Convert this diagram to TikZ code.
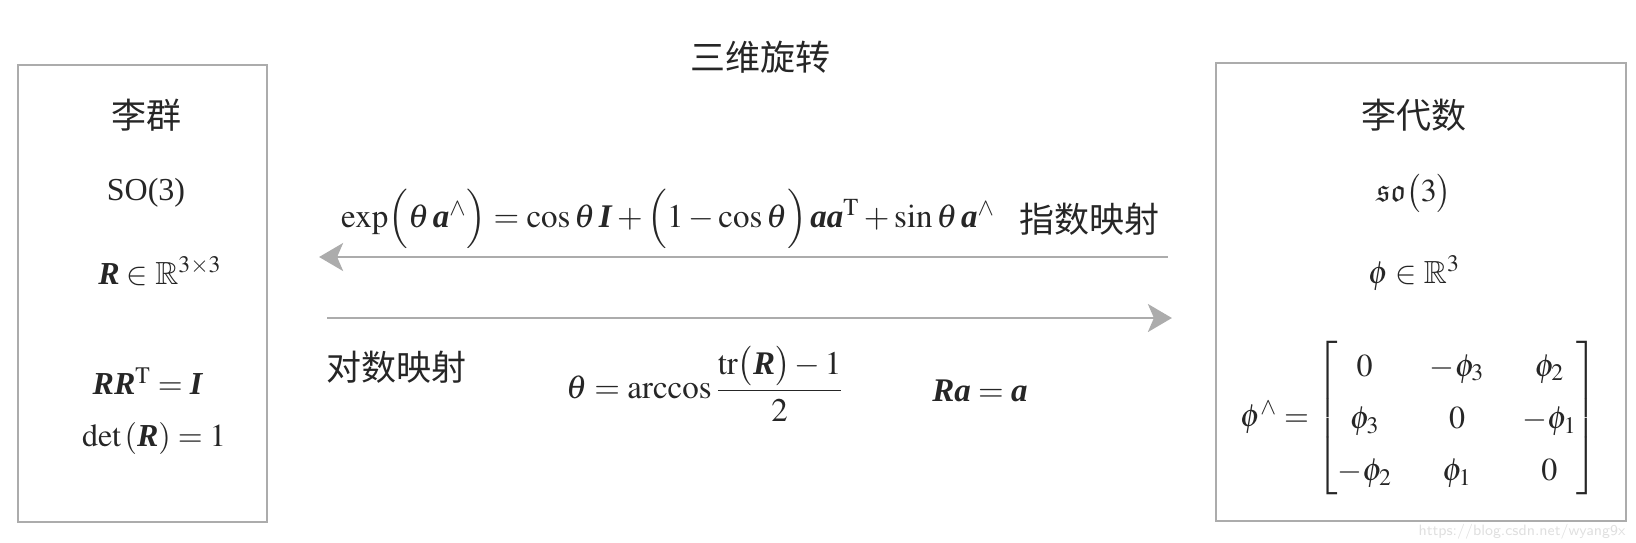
\documentclass[tikz,border=0pt]{standalone}
\usepackage{amsmath}
\usepackage{mathptmx}
\usepackage{amssymb}
\usepackage{fontspec}
\setmainfont{Liberation Serif}
\newfontfamily\cjk{Noto Sans CJK SC}
\usetikzlibrary{arrows.meta, positioning}

\newcommand{\bv}[1]{\textbf{\textit{#1}}}

\begin{document}
\begin{tikzpicture}[
    x=0.5pt, y=-0.5pt,
    every node/.style={inner sep=0pt, text=black!85,
                       font=\fontsize{16pt}{19pt}\selectfont},
    panel/.style={rectangle, draw=gray!65, line width=1.1pt},
    zh/.style={font=\fontsize{17.5pt}{20pt}\selectfont\cjk},
    maparr/.style={-{Stealth[length=12pt, width=14pt, inset=3pt]},
                   draw=gray!65, fill=gray!65, line width=1.2pt},
  ]
    \useasboundingbox (0,0) rectangle (1636,542);

    % the two spaces
    \node[panel, minimum width=124.5pt, minimum height=228.5pt] (grp) at (142.5,293.5) {};
    \node[panel, minimum width=205pt, minimum height=229pt] (alg) at (1421,292) {};

    \node[zh] (title) at (760,57) {三维旋转};

    % Lie group
    \node[zh] (grpname) at (146,115) {李群};
    \node (so3) at (146,193) {SO(3)};
    \node (grpset) at (160,271) {$\bv{R} \in \mathbb{R}^{3\times 3}$};
    \node (orth) at (148,381) {$\bv{R}\bv{R}^{\mathrm{T}} = \bv{I}$};
    \node (det) at (154,438) {$\det\,(\bv{R}) = 1$};

    % Lie algebra
    \node[zh] (algname) at (1414,115) {李代数};
    \node (liealg) at (1414,193) {$\mathfrak{so}\bigl(3\bigr)$};
    \node (algset) at (1414,273) {$\phi \in \mathbb{R}^{3}$};
    \node (hatmat) at (1419,418) {$\phi^{\wedge} = {\renewcommand{\arraystretch}{1.38}\setlength{\arraycolsep}{9.5pt}
      \begin{bmatrix} 0 & -\phi_3 & \phi_2 \\ \phi_3 & 0 & -\phi_1 \\ -\phi_2 & \phi_1 & 0 \end{bmatrix}}$};

    % maps
    \draw[maparr, shorten <=23.5pt, shorten >=25.5pt] (alg.west |- 0,257) -- (grp.east |- 0,257);
    \draw[maparr, shorten <=29.5pt, shorten >=21.5pt] (grp.east |- 0,318) -- (alg.west |- 0,318);

    \node[font=\fontsize{16.5pt}{19pt}\selectfont] (expform) at (668,219) {$\exp\Bigl(\theta\,\bv{a}^{\wedge}\Bigr) = \cos\theta\,\bv{I} + \Bigl(1 - \cos\theta\Bigr)\,\bv{a}\bv{a}^{\mathrm{T}} + \sin\theta\,\bv{a}^{\wedge}$};
    \node[zh] (explabel) at (1089,219) {指数映射};
    \node[zh] (loglabel) at (396,367) {对数映射};
    \node[font=\fontsize{16.5pt}{19pt}\selectfont] (logform) at (705,384) {$\theta = \arccos\dfrac{\mathrm{tr}\bigl(\bv{R}\bigr) - 1}{2}$};
    \node[font=\fontsize{16.5pt}{19pt}\selectfont] (axis) at (980,391) {$\bv{R}\bv{a} = \bv{a}$};

    \node[text=gray!25, font=\fontsize{7.5pt}{9pt}\selectfont\sffamily] (mark) at (1522,532) {https://blog.csdn.net/wyang9x};
\end{tikzpicture}
\end{document}
